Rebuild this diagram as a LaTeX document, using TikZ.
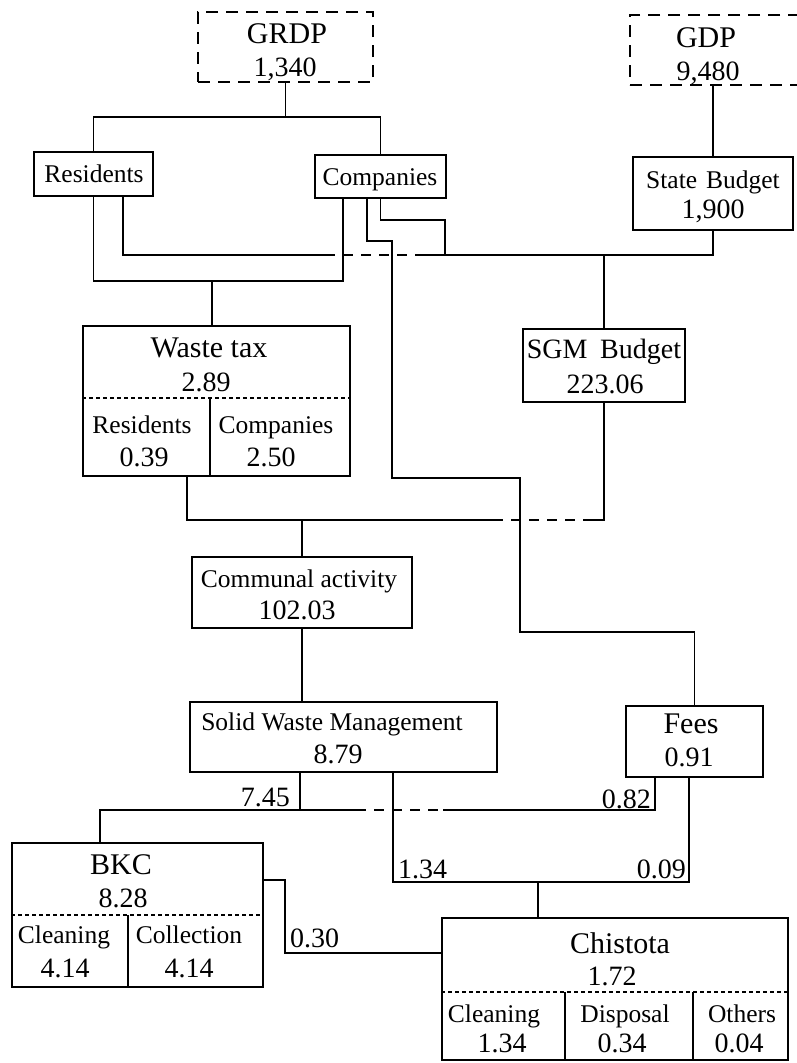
\documentclass[tikz,border=0pt]{standalone}
\usepackage{fontspec}
\setmainfont{Liberation Serif}
\usetikzlibrary{fit}
\tikzset{
  box/.style={draw, line width=1.9pt, inner sep=0pt},
  dbox/.style={draw, line width=1.7pt, inner sep=0pt, dash pattern=on 12pt off 8pt},
  conn/.style={line width=1.9pt},
  dsh/.style={line width=1.9pt, dash pattern=on 10pt off 8pt},
  dotln/.style={line width=1.5pt, dash pattern=on 4pt off 3pt},
  big/.style={font=\fontsize{30}{33}\selectfont, inner sep=0pt, anchor=base},
  sml/.style={font=\fontsize{25.5}{30}\selectfont, inner sep=0pt, anchor=base},
  num/.style={font=\fontsize{28}{30}\selectfont, inner sep=0pt, anchor=base},
}
\begin{document}
\begin{tikzpicture}[x=1pt,y=-1pt]
\useasboundingbox (0,0) rectangle (796,1063);
\fill[white] (0,0) rectangle (796,1063);

% ---------- boxes ----------
\node[dbox, fit={(198,12) (373,82)}] (grdp) {};
\node[dbox, fit={(630,15) (800,85)}] (gdp) {};
\node[box, fit={(34,152) (153,196)}] (res) {};
\node[box, fit={(315,155) (446,198)}] (comp) {};
\node[box, fit={(633,157) (793,230)}] (sb) {};
\node[box, fit={(83,326) (350,476)}] (wt) {};
\node[box, fit={(523,329) (685,402)}] (sgm) {};
\node[box, fit={(192,557) (412,628)}] (comm) {};
\node[box, fit={(190,702) (497,772)}] (swm) {};
\node[box, fit={(626,706) (763,777)}] (fees) {};
\node[box, fit={(12,843) (263,987)}] (bkc) {};
\node[box, fit={(442,918) (788,1060)}] (chis) {};

% ---------- inner dividers ----------
\draw[dotln] (wt.west |- 0,398) -- (wt.east |- 0,398);
\draw[conn] (210,398) -- (210,0 |- wt.south);
\draw[dotln] (bkc.west |- 0,915) -- (bkc.east |- 0,915);
\draw[conn] (128,915) -- (128,0 |- bkc.south);
\draw[dotln] (chis.west |- 0,992) -- (chis.east |- 0,992);
\draw[conn] (565,992) -- (565,0 |- chis.south);
\draw[conn] (693,992) -- (693,0 |- chis.south);

% ---------- texts ----------
\node[big] (tgrdp) at (287,43) {GRDP};
\node[num] (vgrdp) at (285,76) {1,340};
\node[big] (tgdp) at (706,47) {GDP};
\node[num] (vgdp) at (708,80) {9,480};
\node[sml] (tres) at (94,182) {Residents};
\node[sml] (tcomp) at (380,185) {Companies};
\node[sml] (tsb) at (713,188) {State\hspace{0.35em}Budget};
\node[num] (vsb) at (713,218) {1,900};
\node[big] (twt) at (209,357) {Waste tax};
\node[num] (vwt) at (206,391) {2.89};
\node[sml] (twtr) at (142,433) {Residents};
\node[num] (vwtr) at (144,466) {0.39};
\node[sml] (twtc) at (276,433) {Companies};
\node[num] (vwtc) at (271,466) {2.50};
\node[num] (tsgm) at (604,358) {SGM\hspace{0.2em} Budget};
\node[num] (vsgm) at (605,393) {223.06};
\node[sml] (tcomm) at (299,587) {Communal activity};
\node[num] (vcomm) at (297,619) {102.03};
\node[sml] (tswm) at (332,730) {Solid Waste Management};
\node[num] (vswm) at (338,763) {8.79};
\node[big] (tfees) at (691,733) {Fees};
\node[num] (vfees) at (689,766) {0.91};
\node[big] (tbkc) at (121,874) {BKC};
\node[num] (vbkc) at (123,907) {8.28};
\node[sml] (tbc1) at (64,943) {Cleaning};
\node[num] (vbc1) at (65,977) {4.14};
\node[sml] (tbc2) at (189,943) {Collection};
\node[num] (vbc2) at (189,977) {4.14};
\node[big] (tchis) at (620,953) {Chistota};
\node[num] (vchis) at (612,985) {1.72};
\node[sml] (tch1) at (494,1022) {Cleaning};
\node[num] (vch1) at (502,1052) {1.34};
\node[sml] (tch2) at (625,1022) {Disposal};
\node[num] (vch2) at (622,1052) {0.34};
\node[sml] (tch3) at (742,1022) {Others};
\node[num] (vch3) at (739,1052) {0.04};

% ---------- flow labels ----------
\node[num, anchor=base east] (l745) at (290,806) {7.45};
\node[num, anchor=base east] (l082) at (651,808) {0.82};
\node[num, anchor=base west] (l134) at (398,878) {1.34};
\node[num, anchor=base east] (l009) at (686,878) {0.09};
\node[num, anchor=base west] (l030) at (290,947) {0.30};

% ---------- connectors ----------
% GRDP -> Residents, Companies
\draw[conn] (grdp.south) -- (grdp.south |- 0,117);
\draw[conn] (res.north) |- (comp.north |- 0,117) -- (comp.north);
% GDP -> State Budget
\draw[conn] (sb.north |- gdp.south) -- (sb.north);
% Residents, Companies -> Waste tax
\draw[conn] (res.south) |- (343,281) -- (343,0 |- comp.south);
\draw[conn] (212,281) -- (212,0 |- wt.north);
% Residents, Companies, State Budget -> SGM Budget
\draw[conn] (123,0 |- res.south) |- (325,255);
\draw[dsh] (325,255) -- (417,255);
\draw[conn] (417,255) -| (sb.south);
\draw[conn] (comp.south) |- (445,220) -- (445,255);
\draw[conn] (sgm.north |- 0,255) -- (sgm.north);
% Companies -> Fees
\draw[conn] (367,0 |- comp.south) |- (392,241) |- (520,478) |- (fees.north |- 0,632) -- (fees.north);
% Waste tax, SGM Budget -> Communal activity
\draw[conn] (187,0 |- wt.south) |- (493,520);
\draw[dsh] (493,520) -- (585,520);
\draw[conn] (585,520) -| (sgm.south);
\draw[conn] (comm.north |- 0,520) -- (comm.north);
% Communal activity -> Solid Waste Management
\draw[conn] (comm.south) -- (comm.south |- swm.north);
% SWM, Fees -> BKC
\draw[conn] (300,0 |- swm.south) -- (300,810);
\draw[conn] (100,0 |- bkc.north) |- (356,810);
\draw[dsh] (356,810) -- (443,810);
\draw[conn] (443,810) -| (655,0 |- fees.south);
% SWM, Fees -> Chistota
\draw[conn] (393,0 |- swm.south) |- (689,882) -- (689,0 |- fees.south);
\draw[conn] (538,882) -- (538,0 |- chis.north);
% BKC -> Chistota
\draw[conn] (bkc.east |- 0,880) -| (285,953) -- (chis.west |- 0,953);
\end{tikzpicture}
\end{document}
